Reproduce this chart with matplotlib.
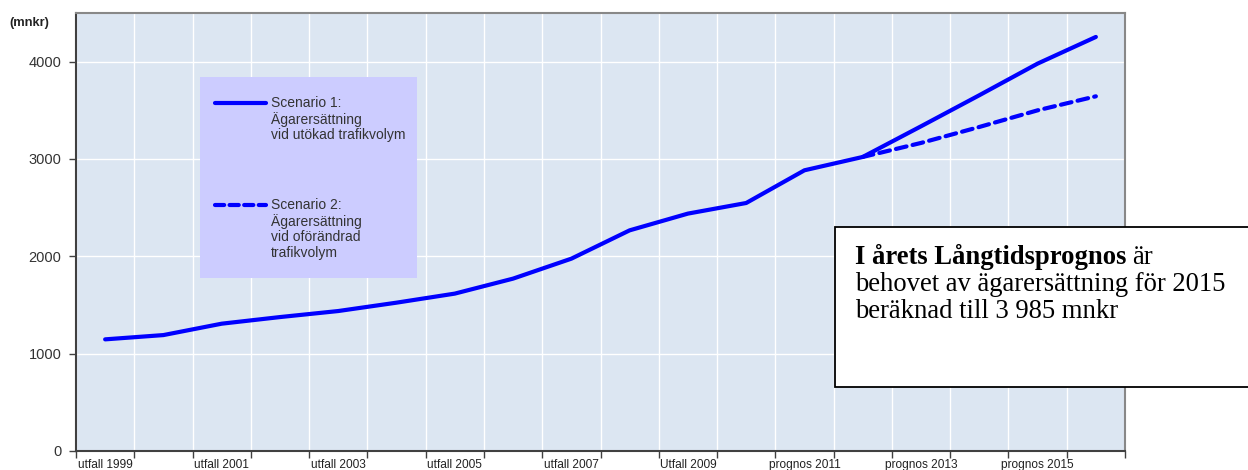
import matplotlib
matplotlib.use("Agg")
import matplotlib.pyplot as plt
from matplotlib.patches import Rectangle
from matplotlib.lines import Line2D
import numpy as np

# ---- data ----
years = list(range(1999, 2017))
scenario1 = [1147, 1191, 1308, 1376, 1438, 1524, 1617, 1771, 1976, 2267,
             2439, 2548, 2884, 3021, 3336, 3655, 3980, 4254]
scenario2_years = [2012, 2013, 2014, 2015, 2016]
scenario2 = [3021, 3165, 3329, 3500, 3644]
xlabels = ["utfall 1999", "utfall 2001", "utfall 2003", "utfall 2005", "utfall 2007",
           "Utfall 2009", "prognos 2011", "prognos 2013", "prognos 2015"]
yticks = [0, 1000, 2000, 3000, 4000]
legend_labels = ["Scenario 1:\nÄgarersättning\nvid utökad trafikvolym",
                 "Scenario 2:\nÄgarersättning\nvid oförändrad\ntrafikvolym"]

W, H = 1248, 470
fig = plt.figure(figsize=(W / 100, H / 100), dpi=100)

def fx(px):
    return px / W

def fy(py):
    return 1 - py / H

ax = fig.add_axes([fx(76), fy(451), fx(1125) - fx(76), fy(13) - fy(451)])
ax.set_facecolor("#dce6f2")

xi = np.arange(len(years))
x2 = [years.index(y) for y in scenario2_years]
blue = "#0000ff"
ax.plot(xi, scenario1, color=blue, lw=3.0, solid_capstyle="round", solid_joinstyle="round", zorder=3)
ax.plot(x2, scenario2, color=blue, lw=3.0, dashes=(2.6, 1.5), dash_capstyle="round", zorder=3)

ax.set_xlim(-0.5, len(years) - 0.5)
ax.set_ylim(0, 4500)

# major ticks at category boundaries, labels on category centres
ax.set_xticks(np.arange(-0.5, len(years) + 0.5, 1.0))
ax.set_xticklabels([])
ax.set_xticks(np.arange(0, len(years), 2), minor=True)
ax.set_xticklabels(xlabels, minor=True, fontsize=8.6, color="#222222",
                   family=["Liberation Sans", "DejaVu Sans"])
ax.tick_params(axis="x", which="minor", length=0, pad=6)
ax.tick_params(axis="x", which="major", length=5, width=1, color="#404040", direction="out")

ax.set_yticks(yticks)
ax.set_yticklabels([str(v) for v in yticks], fontsize=10.5, color="#333333",
                   family=["Liberation Sans", "DejaVu Sans"])
ax.tick_params(axis="y", length=5, width=1, color="#404040", direction="out", pad=5.5)

ax.grid(True, which="major", color="white", lw=1.0)
ax.set_axisbelow(True)

for side in ["left", "bottom"]:
    ax.spines[side].set_color("#404040")
    ax.spines[side].set_linewidth(1.5)
for side in ["top", "right"]:
    ax.spines[side].set_color("#888888")
    ax.spines[side].set_linewidth(1.5)

fig.text(fx(9), fy(23), "(mnkr)", fontsize=9.3, fontweight="bold", color="#222222",
         ha="left", va="center", family=["Liberation Sans", "DejaVu Sans"])

# ---- legend box ----
fig.add_artist(Rectangle((fx(200), fy(278)), fx(417) - fx(200), fy(77) - fy(278),
                         transform=fig.transFigure, facecolor="#ccccff", edgecolor="none", zorder=4))
fig.add_artist(Line2D([fx(215), fx(266)], [fy(103), fy(103)], transform=fig.transFigure,
                      color=blue, lw=3.0, solid_capstyle="round", zorder=5))
fig.add_artist(Line2D([fx(215), fx(266)], [fy(205), fy(205)], transform=fig.transFigure,
                      color=blue, lw=3.0, dashes=(2.2, 1.3), dash_capstyle="round", zorder=5))
fig.text(fx(271), fy(96), legend_labels[0], fontsize=10, color="#333333", ha="left", va="top",
         linespacing=1.15, family=["Liberation Sans", "DejaVu Sans"], zorder=6)
fig.text(fx(271), fy(198), legend_labels[1], fontsize=10, color="#333333", ha="left", va="top",
         linespacing=1.15, family=["Liberation Sans", "DejaVu Sans"], zorder=6)

# ---- text box ----
fig.add_artist(Rectangle((fx(835), fy(387)), fx(1262) - fx(835), fy(227) - fy(387),
                         transform=fig.transFigure, facecolor="white", edgecolor="black",
                         lw=1.3, zorder=7, clip_on=False))
serif = ["Liberation Serif", "DejaVu Serif"]
fs = 19.2
t1 = fig.text(fx(855), fy(264), "I årets Långtidsprognos", fontsize=fs, fontweight="bold",
              family=serif, ha="left", va="baseline", zorder=8)
fig.canvas.draw()
bb = t1.get_window_extent()
fig.text(bb.x1 / W + fx(6), fy(264), "är", fontsize=fs, family=serif, ha="left",
         va="baseline", zorder=8)
fig.text(fx(855), fy(291), "behovet av ägarersättning för 2015", fontsize=fs, family=serif,
         ha="left", va="baseline", zorder=8)
fig.text(fx(855), fy(318), "beräknad till 3 985 mnkr", fontsize=fs, family=serif,
         ha="left", va="baseline", zorder=8)

fig.savefig("out.png", dpi=100)
